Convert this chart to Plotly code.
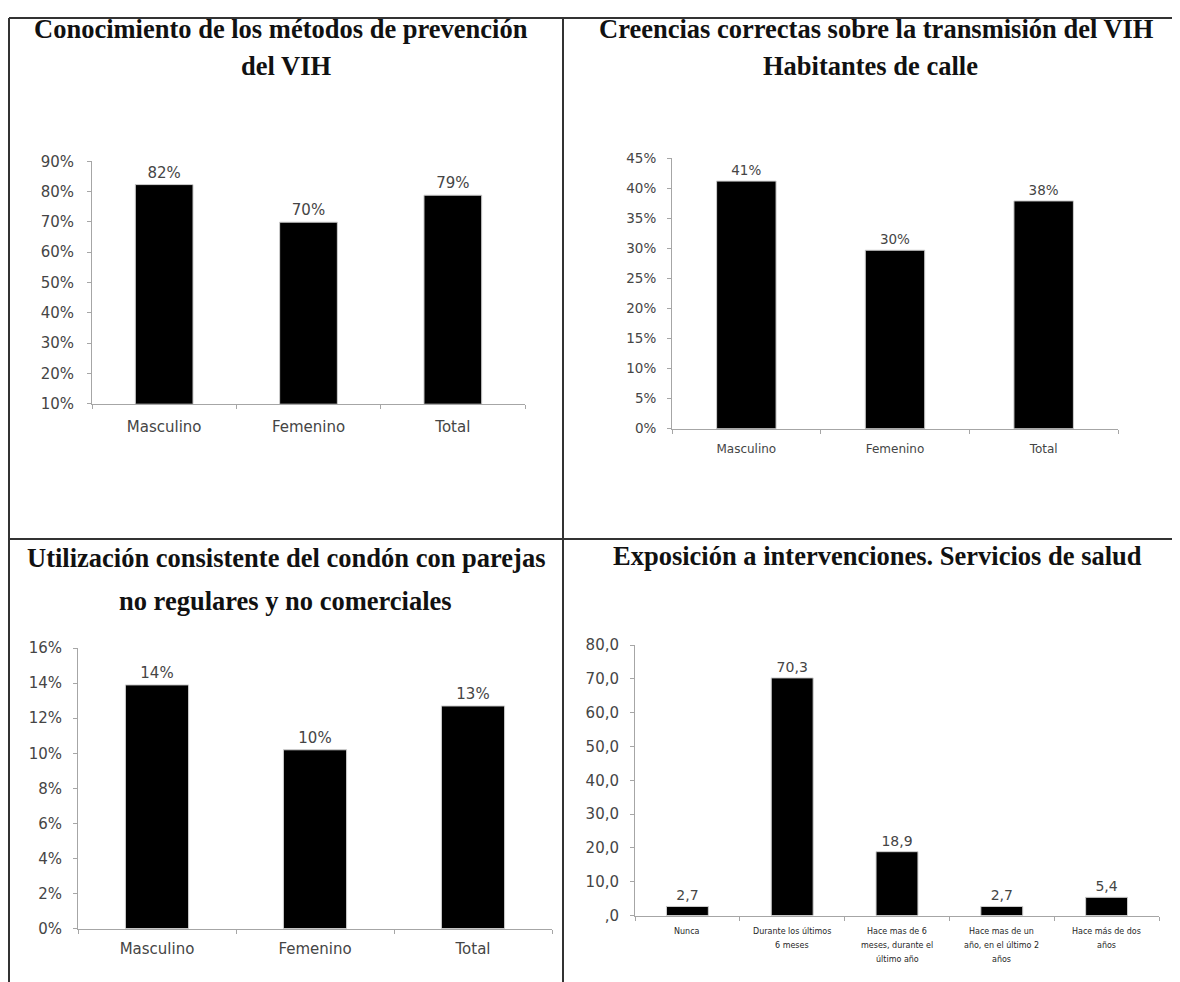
import plotly.graph_objects as go

# mapping from reference pixel positions to figure pixels (measured on the render:
# 8px page margin, slight vertical scaling of the photograph)
OX, OY, SY = 8, 17, 0.98
W, H = 1164, 985

# ---------------- data ----------------
sexo_cats = ["Masculino", "Femenino", "Total"]

conocimiento_vals = [0.823, 0.699, 0.788]
creencias_vals = [0.412, 0.297, 0.379]
condon_vals = [0.139, 0.102, 0.127]

expo_cats = [
    "Nunca",
    "Durante los últimos<br>6 meses",
    "Hace mas de 6<br>meses, durante el<br>último año",
    "Hace mas de un<br>año, en el último 2<br>años",
    "Hace más de dos<br>años",
]
expo_vals = [2.7, 70.3, 18.9, 2.7, 5.4]
expo_ticks = [0, 10, 20, 30, 40, 50, 60, 70, 80]
expo_ticktext = [",0", "10,0", "20,0", "30,0", "40,0", "50,0", "60,0", "70,0", "80,0"]

titles = [
    ("Conocimiento de los métodos de prevención", "del VIH"),
    ("Creencias correctas sobre la transmisión del VIH", "Habitantes de calle"),
    ("Utilización consistente del condón con parejas", "no regulares y no comerciales"),
    ("Exposición a intervenciones. Servicios de salud", None),
]

# ---------------- style ----------------
TXT = "#454545"
AX = "#a6a6a6"
SANS = "DejaVu Sans"
SERIF = "Liberation Serif"


def px_x(p):
    return (p - OX) / W


def px_y(p):
    return 1 - ((p - OY) / SY) / H


fig = go.Figure()


def pct_text(vals):
    return [f"{round(v * 100):.0f}%" for v in vals]


BAR = dict(color="black", line=dict(color="#cfcfcf", width=1))

fig.add_trace(go.Bar(x=sexo_cats, y=conocimiento_vals, xaxis="x", yaxis="y",
                     text=pct_text(conocimiento_vals), textposition="outside",
                     textfont=dict(family=SANS, size=15, color=TXT),
                     marker=BAR, width=0.4, cliponaxis=False))
fig.add_trace(go.Bar(x=sexo_cats, y=creencias_vals, xaxis="x2", yaxis="y2",
                     text=pct_text(creencias_vals), textposition="outside",
                     textfont=dict(family=SANS, size=13.5, color=TXT),
                     marker=BAR, width=0.4, cliponaxis=False))
fig.add_trace(go.Bar(x=sexo_cats, y=condon_vals, xaxis="x3", yaxis="y3",
                     text=pct_text(condon_vals), textposition="outside",
                     textfont=dict(family=SANS, size=15, color=TXT),
                     marker=BAR, width=0.4, cliponaxis=False))
fig.add_trace(go.Bar(x=expo_cats, y=expo_vals, xaxis="x4", yaxis="y4",
                     text=[f"{v:.1f}".replace(".", ",") for v in expo_vals],
                     textposition="outside",
                     textfont=dict(family=SANS, size=14, color=TXT),
                     marker=BAR, width=0.4, cliponaxis=False))


def xaxis(dom, size, anchor, standoff=8, show=True):
    return dict(domain=dom, type="category", anchor=anchor, showline=True,
                linecolor=AX, linewidth=1, ticks="outside", tickson="boundaries",
                ticklen=4, tickcolor=AX, ticklabelstandoff=standoff,
                showticklabels=show,
                tickfont=dict(family=SANS, size=size, color=TXT), showgrid=False,
                zeroline=False, fixedrange=True)


def yaxis(dom, rng, size, anchor, standoff=8, **kw):
    d = dict(domain=dom, range=rng, anchor=anchor, showline=True, linecolor=AX,
             linewidth=1, ticks="outside", ticklen=4, tickcolor=AX,
             ticklabelstandoff=standoff,
             tickfont=dict(family=SANS, size=size, color=TXT), showgrid=False,
             zeroline=False, fixedrange=True)
    d.update(kw)
    return d


fig.update_layout(
    width=W, height=H, margin=dict(l=0, r=0, t=0, b=0, pad=0), autosize=False,
    paper_bgcolor="white", plot_bgcolor="white", showlegend=False,
    xaxis=xaxis([px_x(92), px_x(525)], 15, "y", standoff=9),
    yaxis=yaxis([px_y(403), px_y(161)], [0.1, 0.9], 15, "x", standoff=10,
                tickvals=[0.1, 0.2, 0.3, 0.4, 0.5, 0.6, 0.7, 0.8, 0.9], tickformat=".0%"),
    xaxis2=xaxis([px_x(672), px_x(1118)], 12, "y2", standoff=9),
    yaxis2=yaxis([px_y(428), px_y(158)], [0, 0.45], 13.5, "x2", standoff=8,
                 dtick=0.05, tickformat=".0%"),
    xaxis3=xaxis([px_x(78), px_x(552)], 15, "y3", standoff=6),
    yaxis3=yaxis([px_y(927), px_y(647)], [0, 0.16], 15, "x3", standoff=8,
                 dtick=0.02, tickformat=".0%"),
    xaxis4=xaxis([px_x(635), px_x(1159)], 8, "y4", show=False),
    yaxis4=yaxis([px_y(914), px_y(644)], [0, 80], 15, "x4", standoff=8,
                 tickvals=expo_ticks, ticktext=expo_ticktext),
)

# category labels of panel 4 (wider line spacing than plotly's tick labels)
for cat in expo_cats:
    for i, part in enumerate(cat.split("<br>")):
        fig.add_annotation(text=part, x=cat, xref="x4", y=px_y(930 + 14 * i), yref="paper",
                           showarrow=False, xanchor="center", yanchor="middle",
                           font=dict(family=SANS, size=8, color="#262626"))

# titles
title_pos = [
    ((281, 29), (286, 66)),
    ((876, 29), (870, 66)),
    ((286, 557), (285, 600)),
    ((877, 555), None),
]
for (l1, l2), (p1, p2) in zip(titles, title_pos):
    fig.add_annotation(text=f"<b>{l1}</b>", x=px_x(p1[0]), y=px_y(p1[1]), xref="paper", yref="paper",
                       showarrow=False, xanchor="center", yanchor="middle",
                       font=dict(family=SERIF, size=26.5, color="#111111"))
    if l2:
        fig.add_annotation(text=f"<b>{l2}</b>", x=px_x(p2[0]), y=px_y(p2[1]), xref="paper", yref="paper",
                           showarrow=False, xanchor="center", yanchor="middle",
                           font=dict(family=SERIF, size=26.5, color="#111111"))

# frame lines
line = dict(color="#333333", width=2)
top = 1 - 1 / H
fig.add_shape(type="line", xref="paper", yref="paper", x0=px_x(9), x1=1, y0=top, y1=top, line=line)
fig.add_shape(type="line", xref="paper", yref="paper", x0=px_x(9), x1=px_x(9), y0=top, y1=0, line=line)
fig.add_shape(type="line", xref="paper", yref="paper", x0=px_x(563), x1=px_x(563), y0=top, y1=0, line=line)
fig.add_shape(type="line", xref="paper", yref="paper", x0=px_x(9), x1=1, y0=px_y(538), y1=px_y(538), line=line)

fig.write_html("out.html")
